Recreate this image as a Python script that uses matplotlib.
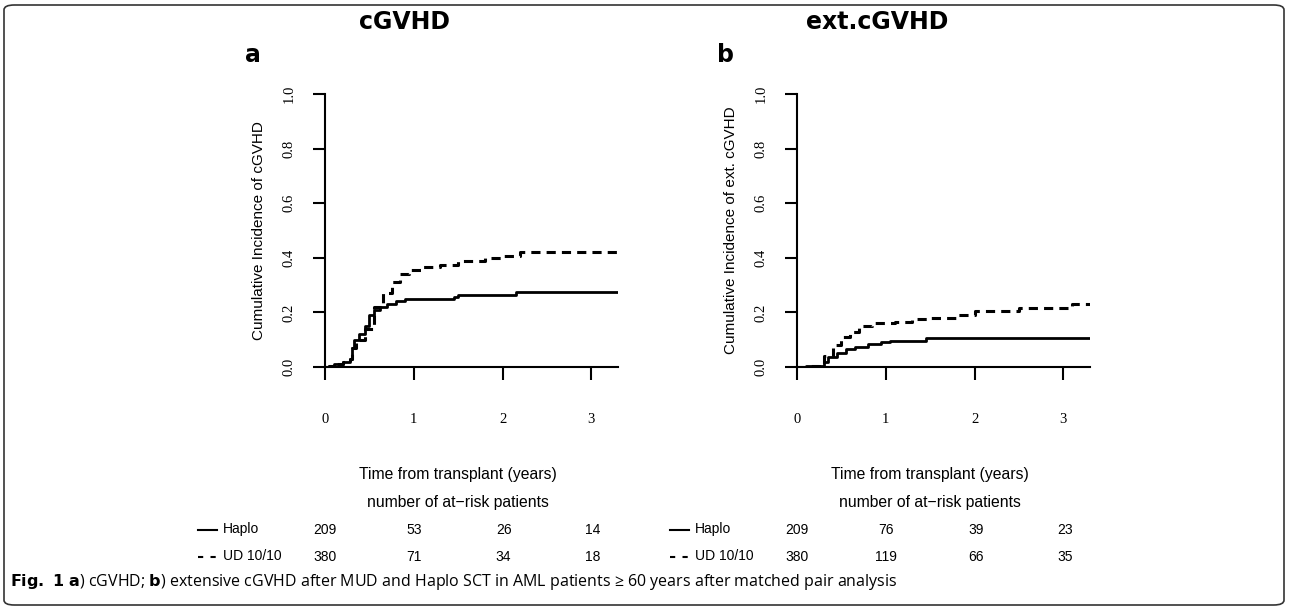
import matplotlib.pyplot as plt
from matplotlib.patches import FancyBboxPatch

# panel a: cGVHD
a_haplo_t = [0, 0.05, 0.1, 0.2, 0.28, 0.3, 0.33, 0.38, 0.45, 0.5, 0.55, 0.62, 0.7, 0.8, 0.9, 1.45, 1.5, 2.1, 2.15, 3.3]
a_haplo_y = [0, 0.005, 0.01, 0.02, 0.03, 0.07, 0.1, 0.12, 0.15, 0.19, 0.21, 0.22, 0.23, 0.24, 0.25, 0.255, 0.265, 0.265, 0.275, 0.275]
a_ud_t = [0, 0.05, 0.1, 0.2, 0.28, 0.3, 0.35, 0.45, 0.55, 0.65, 0.75, 0.85, 0.95, 1.1, 1.3, 1.5, 1.8, 2.0, 2.2, 3.3]
a_ud_y = [0, 0.005, 0.01, 0.02, 0.03, 0.07, 0.1, 0.14, 0.22, 0.27, 0.31, 0.34, 0.355, 0.365, 0.375, 0.39, 0.4, 0.405, 0.42, 0.425]

# panel b: extensive cGVHD
b_haplo_t = [0, 0.1, 0.2, 0.3, 0.35, 0.45, 0.55, 0.65, 0.8, 0.95, 1.05, 1.45, 3.3]
b_haplo_y = [0, 0.002, 0.005, 0.02, 0.035, 0.05, 0.065, 0.075, 0.085, 0.09, 0.095, 0.105, 0.105]
b_ud_t = [0, 0.1, 0.25, 0.3, 0.4, 0.5, 0.6, 0.7, 0.85, 1.1, 1.3, 1.5, 1.8, 2.0, 2.5, 3.1, 3.3]
b_ud_y = [0, 0.002, 0.01, 0.04, 0.08, 0.11, 0.13, 0.15, 0.16, 0.165, 0.175, 0.18, 0.19, 0.205, 0.215, 0.23, 0.23]

risk_a_haplo = [209, 53, 26, 14]
risk_a_ud = [380, 71, 34, 18]
risk_b_haplo = [209, 76, 39, 23]
risk_b_ud = [380, 119, 66, 35]

W, H = 1290, 609
fig = plt.figure(figsize=(W / 100, H / 100), dpi=100)

# rounded frame
fig.patches.append(FancyBboxPatch((4 / W, 4 / H), 1280 / W, 600 / H,
                                  boxstyle="round,pad=0,rounding_size=0.008",
                                  transform=fig.transFigure, fill=False, lw=1.2, ec='#333333'))

def panel(x0, letter, title, ylab, haplo_t, haplo_y, ud_t, ud_y, rh, ru):
    ax = fig.add_axes([x0 / W, 1 - 367 / H, 293 / W, 273 / H])
    ax.step(haplo_t, haplo_y, where='post', color='black', lw=2)
    ax.step(ud_t, ud_y, where='post', color='black', lw=2.2, ls=(0, (3, 2)))
    ax.set_xlim(0, 3.3)
    ax.set_ylim(0, 1)
    ax.spines['top'].set_visible(False)
    ax.spines['right'].set_visible(False)
    for s in ('left', 'bottom'):
        ax.spines[s].set_linewidth(1.5)
    ax.set_xticks([0, 1, 2, 3])
    ax.set_yticks([0, 0.2, 0.4, 0.6, 0.8, 1.0])
    ax.set_yticklabels(['0.0', '0.2', '0.4', '0.6', '0.8', '1.0'], rotation=90, va='center',
                       family='Liberation Serif', fontsize=10.5)
    ax.set_xticklabels(['0', '1', '2', '3'], family='Liberation Serif', fontsize=10.5)
    ax.tick_params(axis='x', direction='out', length=9, width=1.5, pad=24)
    ax.tick_params(axis='y', direction='out', length=9, width=1.5, pad=12)
    ax.set_ylabel(ylab, fontsize=11, labelpad=12, family='Liberation Sans')
    ax.patch.set_alpha(0)

    fig.text((x0 - 80) / W, 1 - 55 / H, letter, fontsize=17, fontweight='bold', ha='left', va='center')
    fig.text((x0 + 80) / W, 1 - 22 / H, title, fontsize=17, fontweight='bold', ha='center', va='center')
    cx = x0 + 133
    fig.text(cx / W, 1 - 474 / H, 'Time from transplant (years)', fontsize=11.3, ha='center', va='center',
             family='Liberation Sans')
    fig.text(cx / W, 1 - 502 / H, 'number of at\u2212risk patients', fontsize=11.3, ha='center', va='center',
             family='Liberation Sans')
    # risk table row labels
    lx = x0 - 127
    fig.lines.append(plt.Line2D([lx / W, (lx + 19) / W], [1 - 530 / H] * 2, color='black', lw=1.5,
                                transform=fig.transFigure))
    fig.lines.append(plt.Line2D([lx / W, (lx + 19) / W], [1 - 557 / H] * 2, color='black', lw=1.5,
                                ls=(0, (2.5, 3.5)), transform=fig.transFigure))
    fig.text((lx + 25) / W, 1 - 529 / H, 'Haplo', fontsize=10, va='center', family='Liberation Sans')
    fig.text((lx + 25) / W, 1 - 556 / H, 'UD 10/10', fontsize=10, va='center', family='Liberation Sans')
    xs = [x0 + i * 89.3 for i in range(4)]
    for x, h, u in zip(xs, rh, ru):
        fig.text(x / W, 1 - 530 / H, str(h), fontsize=10, ha='center', va='center', family='Liberation Sans')
        fig.text(x / W, 1 - 557 / H, str(u), fontsize=10, ha='center', va='center', family='Liberation Sans')
    return ax

panel(325, 'a', 'cGVHD', 'Cumulative Incidence of cGVHD',
      a_haplo_t, a_haplo_y, a_ud_t, a_ud_y, risk_a_haplo, risk_a_ud)
panel(797, 'b', 'ext.cGVHD', 'Cumulative Incidence of ext. cGVHD',
      b_haplo_t, b_haplo_y, b_ud_t, b_ud_y, risk_b_haplo, risk_b_ud)

fig.text(10 / W, 1 - 582 / H,
         r'$\bf{Fig.\ 1\ a}$) cGVHD; $\bf{b}$) extensive cGVHD after MUD and Haplo SCT in AML patients ' + '\u2265 60 years after matched pair analysis',
         fontsize=11.5, va='center', family='Open Sans')

fig.savefig('out.png', dpi=100)
